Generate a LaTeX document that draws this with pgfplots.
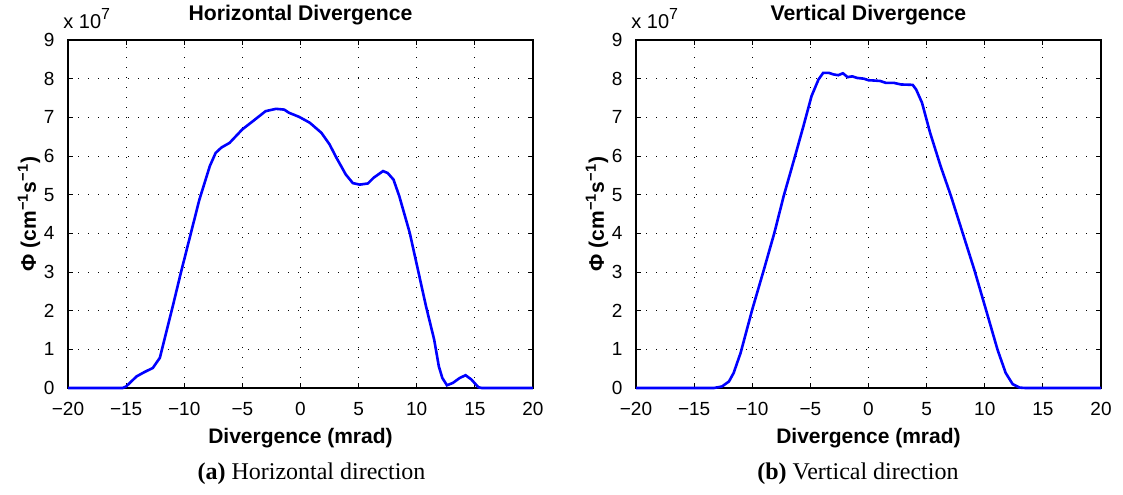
\documentclass[border=0pt]{standalone}
\usepackage{fontspec}
\setmainfont{Liberation Sans}
\newfontfamily\capfont{Liberation Serif}
\usepackage{pgfplots}
\pgfplotsset{compat=1.18}

% data in units of 1e7 cm^-1 s^-1
\pgfplotstableread{
x y
-20 0
-15.3 0
-15.0 0.04
-14.1 0.30
-13.5 0.40
-12.7 0.52
-12.1 0.78
-11.5 1.50
-11.0 2.10
-10.3 2.97
-9.5 3.92
-8.7 4.87
-7.8 5.74
-7.3 6.08
-6.8 6.22
-6.1 6.34
-5.0 6.69
-4.1 6.90
-3.0 7.16
-2.1 7.22
-1.4 7.20
-1.0 7.12
-0.1 7.01
0.8 6.86
1.8 6.60
2.5 6.30
3.1 5.95
3.9 5.52
4.5 5.30
5.1 5.26
5.8 5.29
6.3 5.44
7.1 5.61
7.5 5.56
8.0 5.39
8.5 4.96
9.4 4.01
10.1 3.06
10.8 2.11
11.5 1.25
11.9 0.56
12.2 0.26
12.6 0.07
13.1 0.13
13.7 0.26
14.2 0.33
14.7 0.22
15.3 0.02
15.6 0
20 0
}\horiz

\pgfplotstableread{
x y
-20 0
-13.3 0
-12.6 0.04
-12.0 0.17
-11.6 0.39
-11.0 0.91
-10.0 2.03
-9.0 3.06
-8.1 4.01
-7.3 4.96
-6.4 5.91
-5.6 6.77
-4.9 7.55
-4.3 7.98
-3.9 8.15
-3.4 8.15
-3.0 8.11
-2.6 8.09
-2.2 8.14
-1.8 8.04
-1.4 8.06
-1.0 8.02
-0.4 8.00
0.0 7.96
0.6 7.95
1.0 7.94
1.5 7.89
2.2 7.89
2.8 7.85
3.8 7.84
4.1 7.72
4.6 7.38
5.3 6.60
6.2 5.74
7.1 4.96
8.1 4.01
9.1 3.06
10.1 2.03
11.1 0.99
11.8 0.39
12.4 0.10
13.0 0.01
13.5 0
20 0
}\vert

\pgfplotsset{
  matlab/.style={
    scale only axis,
    width=232.5pt, height=174pt,
    xmin=-20, xmax=20, ymin=0, ymax=9,
    xtick={-20,-15,...,20},
    xticklabels={−20,−15,−10,−5,0,5,10,15,20},
    ytick={0,1,...,9},
    tick align=inside,
    major tick length=2.5pt,
    tick style={black, line width=0.5pt},
    axis line style={black, line width=0.6pt},
    grid=major,
    major grid style={black, line width=0.5pt, dash pattern=on 0.5pt off 4.5pt},
    /pgf/number format/assume math mode=true,
    tick label style={font=\fontsize{9.5}{11}\selectfont},
    xticklabel style={yshift=-3.8pt},
    yticklabel style={xshift=-3.2pt},
    every axis title/.style={at={(axis description cs:0.5,1)}, anchor=center, yshift=12.5pt,
      font=\fontsize{10.6}{12}\selectfont\bfseries},
    every axis x label/.style={at={(axis description cs:0.5,0)}, anchor=center, yshift=-25pt,
      font=\fontsize{10.5}{12}\selectfont\bfseries},
    every axis y label/.style={at={(axis description cs:-0.084,0.5)}, anchor=center, rotate=90,
      font=\fontsize{10.5}{12}\selectfont\bfseries},
    xlabel={Divergence (mrad)},
    ylabel={Φ (cm\textsuperscript{−1}s\textsuperscript{−1})},
    clip=false,
  },
}
\tikzset{
  mult/.style={anchor=base west, font=\fontsize{10}{12}\selectfont, inner sep=0pt},
  capt/.style={anchor=center, font=\fontsize{12}{14}\selectfont\capfont},
}

\begin{document}
\begin{tikzpicture}
\path[use as bounding box] (-34pt,-53pt) rectangle (527.5pt,194pt);

\begin{axis}[matlab, at={(0pt,0pt)}, anchor=south west, title={Horizontal Divergence}]
  \addplot[blue, line width=1.3pt, mark=none] table[x=x, y=y] {\horiz};
  \node[mult] at ([xshift=-2.5pt, yshift=6pt]axis description cs:0,1)
    {x 10\raisebox{0.85ex}{\fontsize{8}{8}\selectfont 7}};
  \node[capt] at ([xshift=5.5pt, yshift=-43pt]axis description cs:0.5,0)
    {\textbf{(a)} Horizontal direction};
\end{axis}

\begin{axis}[matlab, at={(284pt,0pt)}, anchor=south west, title={Vertical Divergence}]
  \addplot[blue, line width=1.3pt, mark=none] table[x=x, y=y] {\vert};
  \node[mult] at ([xshift=-2.5pt, yshift=6pt]axis description cs:0,1)
    {x 10\raisebox{0.85ex}{\fontsize{8}{8}\selectfont 7}};
  \node[capt] at ([xshift=-5.3pt, yshift=-43pt]axis description cs:0.5,0)
    {\textbf{(b)} Vertical direction};
\end{axis}
\end{tikzpicture}
\end{document}
